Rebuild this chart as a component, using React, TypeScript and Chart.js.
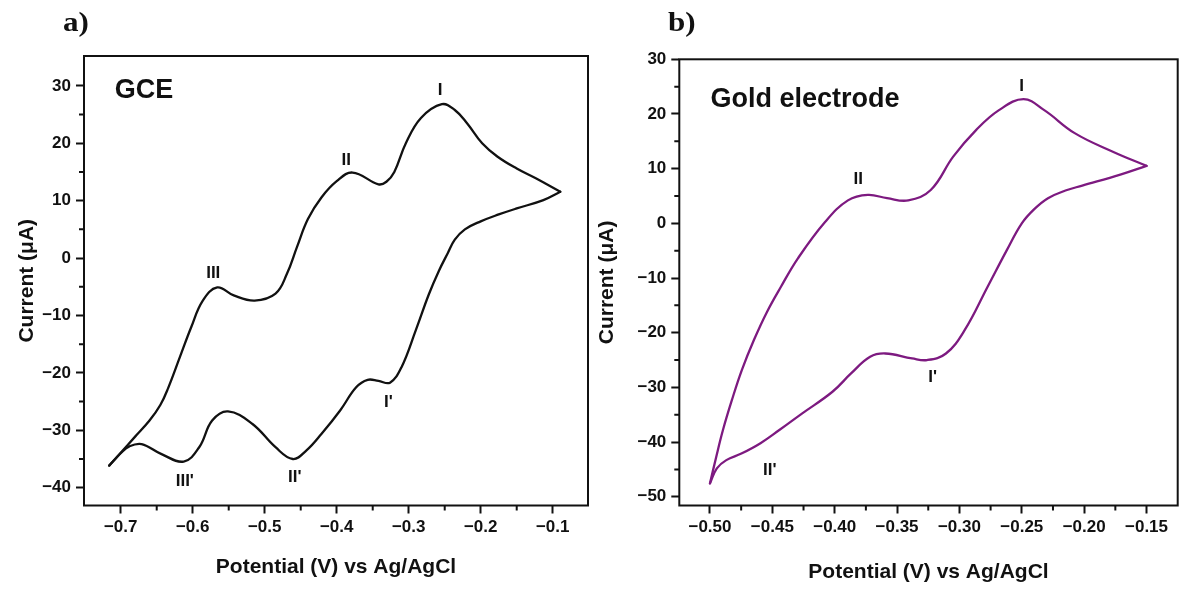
import React, { useEffect, useRef } from "react";
import { Chart, registerables } from "chart.js";

Chart.register(...registerables);

const FONT = "'Liberation Sans', Arial, Helvetica, sans-serif";

// ---------- Panel a : GCE ----------
const gceForwardX = [-0.716, -0.7, -0.68, -0.66, -0.645, -0.634, -0.618, -0.602, -0.586, -0.566, -0.543, -0.514, -0.485, -0.469, -0.455, -0.44, -0.421, -0.4, -0.378, -0.342, -0.331, -0.32, -0.304, -0.283, -0.254, -0.236, -0.219, -0.198, -0.177, -0.15, -0.1235, -0.0895];
const gceForwardY = [-36.15, -33.9, -31.1, -28.3, -25.6, -22.6, -17.3, -12.0, -7.4, -5.1, -6.5, -7.4, -6.2, -2.7, 2.0, 6.8, 10.6, 13.4, 14.9, 12.85, 13.3, 15.0, 20.0, 24.4, 26.8, 25.8, 23.5, 20.0, 17.7, 15.6, 13.9, 11.55];
const gceReverseX = [-0.716, -0.7, -0.688, -0.671, -0.644, -0.6125, -0.591, -0.573, -0.551, -0.517, -0.485, -0.461, -0.442, -0.421, -0.395, -0.373, -0.357, -0.342, -0.326, -0.31, -0.29, -0.272, -0.258, -0.246, -0.236, -0.222, -0.2, -0.175, -0.15, -0.113, -0.0895];
const gceReverseY = [-36.15, -34.0, -32.8, -32.4, -34.1, -35.45, -32.95, -28.3, -26.7, -28.9, -32.95, -35.0, -33.5, -30.6, -26.5, -22.5, -21.2, -21.4, -21.7, -19.0, -12.5, -6.3, -2.2, 0.8, 3.2, 5.0, 6.4, 7.6, 8.65, 10.1, 11.55];
const gceXTicks = [-0.7, -0.6, -0.5, -0.4, -0.3, -0.2, -0.1];
const gceXMinor = [-0.65, -0.55, -0.45, -0.35, -0.25, -0.15];
const gceYTicks = [-40, -30, -20, -10, 0, 10, 20, 30];
const gceYMinor = [-35, -25, -15, -5, 5, 15, 25];
const gcePeakLabels = ["I", "II", "III", "I'", "II'", "III'"];
const gcePeakX = [-0.2564, -0.3867, -0.5715, -0.3282, -0.4583, -0.611];
const gcePeakY = [29.3, 17.1, -2.7, -25.1, -38.25, -38.8];

// ---------- Panel b : Gold electrode ----------
const goldForwardX = [-0.5, -0.4952, -0.4896, -0.4824, -0.4744, -0.4647, -0.4543, -0.4431, -0.4295, -0.4079, -0.3894, -0.3734, -0.358, -0.341, -0.323, -0.305, -0.2865, -0.2683, -0.2486, -0.232, -0.2076, -0.177, -0.15];
const goldForwardY = [-47.55, -42.9, -37.8, -32.3, -26.8, -21.3, -16.2, -11.6, -6.4, 0.2, 4.2, 5.2, 4.6, 4.2, 6.1, 12.2, 17.1, 20.7, 22.7, 20.7, 16.5, 13.1, 10.5];
const goldReverseX = [-0.5, -0.4945, -0.4869, -0.4748, -0.4595, -0.4444, -0.426, -0.4018, -0.3867, -0.3716, -0.3594, -0.338, -0.326, -0.3108, -0.2957, -0.2774, -0.262, -0.25, -0.24, -0.229, -0.215, -0.2015, -0.171, -0.15];
const goldReverseY = [-47.55, -44.8, -43.3, -42.1, -40.2, -37.8, -34.75, -30.8, -27.4, -24.4, -23.8, -24.7, -25.0, -23.8, -19.5, -11.6, -4.9, 0.0, 2.6, 4.6, 6.0, 6.9, 8.9, 10.5];
const goldXTicks = [-0.5, -0.45, -0.4, -0.35, -0.3, -0.25, -0.2, -0.15];
const goldXMinor = [-0.475, -0.425, -0.375, -0.325, -0.275, -0.225, -0.175];
const goldYTicks = [-50, -40, -30, -20, -10, 0, 10, 20, 30];
const goldYMinor = [-45, -35, -25, -15, -5, 5, 15, 25];
const goldPeakLabels = ["I", "II", "I'", "II'"];
const goldPeakX = [-0.2502, -0.3812, -0.3215, -0.452];
const goldPeakY = [25.0, 8.1, -28.2, -45.1];

const xTitle = "Potential (V) vs Ag/AgCl";
const yTitle = "Current (\u03bcA)";

type Panel = {
  name: string;
  nameX: number;
  nameY: number;
  color: string;
  fx: number[];
  fy: number[];
  rx: number[];
  ry: number[];
  xTicks: number[];
  xMinor: number[];
  yTicks: number[];
  yMinor: number[];
  xDec: number;
  xMin: number;
  xMax: number;
  yMin: number;
  yMax: number;
  labels: string[];
  lx: number[];
  ly: number[];
  yAxisWidth: number;
  padRight: number;
  padTop: number;
  xAxisHeight: number;
  xTitlePad: number;
  yTitlePad: number;
};

const panelA: Panel = {
  name: "GCE", nameX: -0.7082, nameY: 29.2, color: "#111111",
  fx: gceForwardX, fy: gceForwardY, rx: gceReverseX, ry: gceReverseY,
  xTicks: gceXTicks, xMinor: gceXMinor, yTicks: gceYTicks, yMinor: gceYMinor,
  xDec: 1, xMin: -0.751, xMax: -0.051, yMin: -43.1, yMax: 35.2,
  labels: gcePeakLabels, lx: gcePeakX, ly: gcePeakY,
  yAxisWidth: 84, padRight: 4, padTop: 56, xAxisHeight: 84.5, xTitlePad: 10.4, yTitlePad: 14.4,
};

const panelB: Panel = {
  name: "Gold electrode", nameX: -0.4996, nameY: 22.55, color: "#7d1a80",
  fx: goldForwardX, fy: goldForwardY, rx: goldReverseX, ry: goldReverseY,
  xTicks: goldXTicks, xMinor: goldXMinor, yTicks: goldYTicks, yMinor: goldYMinor,
  xDec: 2, xMin: -0.5246, xMax: -0.125, yMin: -51.6, yMax: 30,
  labels: goldPeakLabels, lx: goldPeakX, ly: goldPeakY,
  yAxisWidth: 87.3, padRight: 6.3, padTop: 59.3, xAxisHeight: 84.5, xTitlePad: 5.4, yTitlePad: 3,
};

const fmt = (v: number, d: number) => Number(v).toFixed(d).replace("-", "\u2212");

function makeChart(canvas: HTMLCanvasElement, cfg: Panel) {
  const pts = (xs: number[], ys: number[]) => xs.map((x, i) => ({ x, y: ys[i] }));
  const tickFont = { family: FONT, size: 17, weight: "bold" as const };
  const titleFont = { family: FONT, size: 21, weight: "bold" as const };
  const grid = {
    drawOnChartArea: false,
    drawTicks: true,
    tickLength: 8,
    tickWidth: 2,
    tickColor: "#111111",
  };
  const plugin = {
    id: "frameAndLabels",
    afterDraw(chart: any) {
      const { ctx, chartArea: a, scales } = chart;
      const xs = scales.x;
      const ys = scales.y;
      ctx.save();
      ctx.strokeStyle = "#111111";
      ctx.lineWidth = 2;
      ctx.strokeRect(a.left, a.top, a.right - a.left, a.bottom - a.top);
      ctx.beginPath();
      cfg.xMinor.forEach((v) => {
        const p = xs.getPixelForValue(v);
        ctx.moveTo(p, a.bottom);
        ctx.lineTo(p, a.bottom + 5);
      });
      cfg.yMinor.forEach((v) => {
        const p = ys.getPixelForValue(v);
        ctx.moveTo(a.left, p);
        ctx.lineTo(a.left - 5, p);
      });
      ctx.stroke();
      ctx.fillStyle = "#111111";
      ctx.font = `bold 17px ${FONT}`;
      ctx.textAlign = "center";
      ctx.textBaseline = "middle";
      cfg.labels.forEach((t, i) => {
        ctx.fillText(t, xs.getPixelForValue(cfg.lx[i]), ys.getPixelForValue(cfg.ly[i]));
      });
      ctx.font = `bold 27px ${FONT}`;
      ctx.textAlign = "left";
      ctx.fillText(cfg.name, xs.getPixelForValue(cfg.nameX), ys.getPixelForValue(cfg.nameY));
      ctx.restore();
    },
  };
  const ds = (xs: number[], ys: number[]) => ({
    data: pts(xs, ys),
    showLine: true,
    borderColor: cfg.color,
    borderWidth: 2.3,
    pointRadius: 0,
    fill: false,
    tension: 0.4,
    borderJoinStyle: "round" as const,
    borderCapStyle: "round" as const,
  });
  return new Chart(canvas, {
    type: "scatter",
    data: { datasets: [ds(cfg.fx, cfg.fy), ds(cfg.rx, cfg.ry)] },
    options: {
      responsive: false,
      animation: false,
      layout: { padding: { left: 0, right: cfg.padRight, top: cfg.padTop, bottom: 0 } },
      plugins: { legend: { display: false }, tooltip: { enabled: false } },
      scales: {
        x: {
          type: "linear",
          min: cfg.xMin,
          max: cfg.xMax,
          afterBuildTicks: (s: any) => {
            s.ticks = cfg.xTicks.map((v) => ({ value: v }));
          },
          afterFit: (s: any) => {
            s.height = cfg.xAxisHeight;
          },
          ticks: {
            callback: (v: any) => fmt(v, cfg.xDec),
            font: tickFont,
            color: "#111111",
            padding: 4,
            maxRotation: 0,
            autoSkip: false,
          },
          grid,
          border: { display: false },
          title: {
            display: true,
            text: xTitle,
            font: titleFont,
            color: "#111111",
            padding: { top: 0, bottom: cfg.xTitlePad },
          },
        },
        y: {
          type: "linear",
          min: cfg.yMin,
          max: cfg.yMax,
          afterBuildTicks: (s: any) => {
            s.ticks = cfg.yTicks.map((v) => ({ value: v }));
          },
          afterFit: (s: any) => {
            s.width = cfg.yAxisWidth;
          },
          ticks: {
            callback: (v: any) => fmt(v, 0),
            font: tickFont,
            color: "#111111",
            padding: 5,
            autoSkip: false,
          },
          grid,
          border: { display: false },
          title: {
            display: true,
            text: yTitle,
            font: titleFont,
            color: "#111111",
            padding: { top: cfg.yTitlePad, bottom: 0 },
          },
        },
      },
    },
    plugins: [plugin],
  } as any);
}

export default function App() {
  const refA = useRef<HTMLCanvasElement>(null);
  const refB = useRef<HTMLCanvasElement>(null);
  useEffect(() => {
    const a = makeChart(refA.current!, panelA);
    const b = makeChart(refB.current!, panelB);
    return () => {
      a.destroy();
      b.destroy();
    };
  }, []);
  const letter: React.CSSProperties = {
    position: "absolute",
    top: 9,
    font: "bold 27px 'Liberation Serif', 'Times New Roman', serif",
    lineHeight: "27px",
    color: "#111",
    transform: "scaleX(1.15)",
    transformOrigin: "left top",
  };
  return (
    <div style={{ position: "absolute", left: 0, top: 0, width: 1184, height: 590, background: "#fff", overflow: "hidden" }}>
      <canvas ref={refA} width={592} height={590} style={{ position: "absolute", left: 0, top: 0, width: 592, height: 590 }} />
      <canvas ref={refB} width={592} height={590} style={{ position: "absolute", left: 592, top: 0, width: 592, height: 590 }} />
      <div style={{ ...letter, left: 63 }}>a)</div>
      <div style={{ ...letter, left: 668 }}>b)</div>
    </div>
  );
}
